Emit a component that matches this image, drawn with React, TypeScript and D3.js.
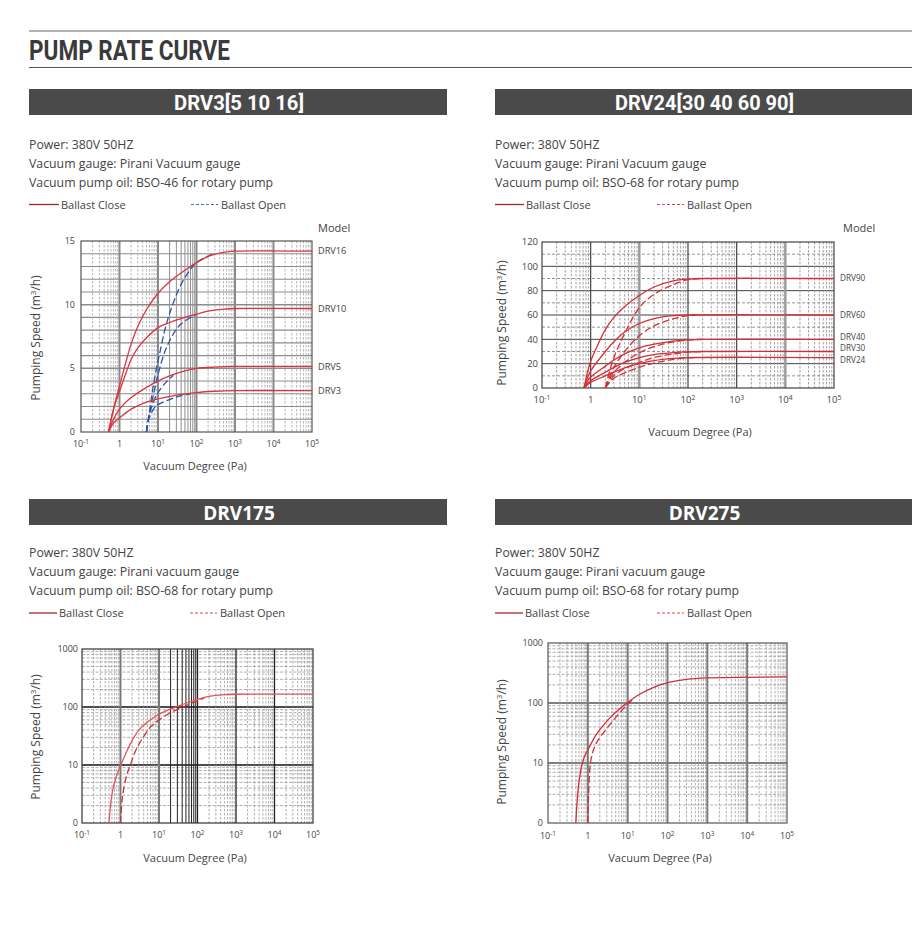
import React from "react";
import * as d3 from "d3";

type Pt = [number, number];

// ---------- text content ----------
const pageTitle = "PUMP RATE CURVE";
const panelTitles = ["DRV3[5 10 16]", "DRV24[30 40 60 90]", "DRV175", "DRV275"];
const infoDrv3 = ["Power: 380V 50HZ", "Vacuum gauge: Pirani Vacuum gauge", "Vacuum pump oil: BSO-46 for rotary pump"];
const infoDrv24 = ["Power: 380V 50HZ", "Vacuum gauge: Pirani Vacuum gauge", "Vacuum pump oil: BSO-68 for rotary pump"];
const infoDrv175 = ["Power: 380V 50HZ", "Vacuum gauge: Pirani vacuum gauge", "Vacuum pump oil: BSO-68 for rotary pump"];
const infoDrv275 = ["Power: 380V 50HZ", "Vacuum gauge: Pirani vacuum gauge", "Vacuum pump oil: BSO-68 for rotary pump"];
const legendLabels = ["Ballast Close", "Ballast Open"];
const xAxisTitle = "Vacuum Degree (Pa)";
const modelTitle = "Model";

// ---------- axes ----------
const xTickValues = [0.1, 1, 10, 100, 1000, 10000, 100000];
const xTickExps = ["-1", "", "1", "2", "3", "4", "5"];
const yTicksDrv3 = [0, 5, 10, 15];
const yTicksDrv24 = [0, 20, 40, 60, 80, 100, 120];
const yTicksLog = [1, 10, 100, 1000];
const yTickLabelsLog = ["0", "10", "100", "1000"];

// ---------- DRV3[5 10 16] ----------
const drv3Models = ["DRV16", "DRV10", "DRV5", "DRV3"];
const drv16Close: Pt[] = [[0.52, 0], [0.7, 1.8], [1, 3.6], [1.5, 5.6], [2, 6.9], [3, 8.3], [5, 9.6], [10, 10.9], [20, 11.8], [50, 12.7], [100, 13.3], [200, 13.8], [500, 14.1], [1000, 14.2], [100000, 14.2]];
const drv16Open: Pt[] = [[5, 0], [6, 1.6], [7, 3.0], [9, 4.9], [11.3, 6.3], [15, 8.0], [20.5, 9.4], [37, 11.4], [60, 12.5], [100, 13.3], [250, 13.95]];
const drv10Close: Pt[] = [[0.52, 0], [0.7, 1.8], [1, 3.2], [1.5, 4.7], [2, 5.7], [3, 6.6], [5, 7.4], [10, 8.2], [20, 8.6], [50, 9.0], [100, 9.25], [200, 9.5], [500, 9.65], [1000, 9.7], [100000, 9.7]];
const drv10Open: Pt[] = [[5, 0], [6, 1.4], [8, 3.2], [10, 4.5], [17, 6.7], [37, 8.4], [100, 9.25]];
const drv5Close: Pt[] = [[0.52, 0], [0.7, 1.0], [1, 1.8], [2, 2.7], [5, 3.5], [10, 4.0], [20, 4.4], [50, 4.8], [100, 5.0], [300, 5.1], [1000, 5.15], [100000, 5.15]];
const drv5Open: Pt[] = [[5, 0], [6, 1.4], [8, 2.5], [10, 3.1], [15, 3.8], [25, 4.45]];
const drv3Close: Pt[] = [[0.52, 0], [0.7, 0.7], [1, 1.1], [2, 1.8], [5, 2.35], [10, 2.6], [30, 2.9], [100, 3.1], [300, 3.2], [1000, 3.25], [100000, 3.25]];
const drv3Open: Pt[] = [[5, 0], [5.5, 0.8], [6.5, 1.4], [8, 1.9], [10, 2.15], [20, 2.55], [40, 2.85], [70, 3.0]];

// ---------- DRV24[30 40 60 90] ----------
const drv24Models = ["DRV90", "DRV60", "DRV40", "DRV30", "DRV24"];
const drv90Close: Pt[] = [[0.73, 0], [0.85, 12], [1, 22], [1.5, 38], [2, 48], [3, 58], [5, 67], [10, 76], [20, 83], [50, 88], [100, 89.5], [200, 90], [100000, 90]];
const drv90Open: Pt[] = [[2, 0], [2.5, 15], [3, 25], [5, 45], [10, 66], [20, 77], [50, 85], [100, 89], [200, 90]];
const drv60Close: Pt[] = [[0.73, 0], [0.85, 8], [1, 14], [2, 30], [3, 38], [5, 46], [10, 53], [20, 57], [50, 59.5], [100, 60], [100000, 60]];
const drv60Open: Pt[] = [[2, 0], [2.5, 10], [3, 17], [5, 30], [10, 43], [20, 51], [50, 57], [100, 59.5], [150, 60]];
const drv40Close: Pt[] = [[0.73, 0], [0.85, 5], [1, 9], [2, 18], [3, 23], [5, 28], [10, 33], [20, 36], [50, 38.5], [100, 39.5], [200, 40], [100000, 40]];
const drv40Open: Pt[] = [[2, 0], [2.5, 8], [3, 13], [5, 21], [10, 29], [20, 34], [50, 38], [100, 39.5], [200, 40]];
const drv30Close: Pt[] = [[0.73, 0], [1, 6], [2, 13], [3, 17], [5, 21], [10, 25], [20, 27.5], [50, 29], [100, 29.7], [200, 30], [100000, 30]];
const drv30Open: Pt[] = [[2, 0], [2.5, 6], [3, 10], [5, 16], [10, 21], [20, 25], [50, 28], [100, 29.5], [200, 30]];
const drv24Close: Pt[] = [[0.73, 0], [1, 4.5], [2, 10], [3, 13], [5, 16.5], [10, 20], [20, 22.5], [50, 24.3], [100, 25], [100000, 25]];
const drv24Open: Pt[] = [[2, 0], [2.5, 5], [3, 8], [5, 12.5], [10, 17], [20, 20.5], [50, 23.5], [100, 24.7], [150, 25]];

// ---------- DRV175 ----------
const drv175Close: Pt[] = [[0.5, 1], [0.55, 2], [0.62, 3.5], [0.7, 5], [0.85, 7.5], [1.05, 10.5], [1.5, 18], [2.1, 28], [3, 40], [5, 55], [10, 75], [20, 92], [30, 102], [50, 116], [100, 135], [200, 152], [500, 163], [1000, 166], [100000, 167]];
const drv175Open: Pt[] = [[1.0, 1], [1.1, 2.5], [1.3, 5], [1.5, 7.2], [1.8, 10], [2.5, 18], [4, 31], [6, 45], [10, 60], [20, 80], [45, 102], [70, 116], [100, 127], [150, 144]];

// ---------- DRV275 ----------
const drv275Close: Pt[] = [[0.5, 1], [0.53, 2], [0.58, 4], [0.65, 7], [0.73, 10], [0.85, 13.5], [1, 16.5], [1.64, 30], [3, 50], [5, 70], [9.6, 100], [20, 140], [50, 188], [100, 218], [300, 248], [1000, 262], [100000, 272]];
const drv275Open: Pt[] = [[1.0, 1], [1.02, 1.7], [1.05, 3.2], [1.09, 6], [1.15, 9.5], [1.25, 13], [1.45, 18], [1.8, 24], [2.65, 34], [4, 48], [6, 66], [8, 82], [10.7, 100], [14, 118]];

// ---------- styling ----------
const FONT = "'Open Sans', 'Noto Sans', 'DejaVu Sans', sans-serif";
const COND = "Roboto, 'Open Sans', sans-serif";
const TEXT = "#444";

interface LineStyle { stroke: string; w: number; dash?: string }
interface GLine extends LineStyle { v: number }

function logLines(eFrom: number, eTo: number, major: (e: number) => LineStyle | null, minor: (e: number) => LineStyle): GLine[] {
  const out: GLine[] = [];
  for (let e = eFrom; e < eTo; e++) {
    for (let k = 2; k <= 9; k++) out.push({ v: k * Math.pow(10, e), ...minor(e) });
  }
  for (let e = eFrom + 1; e < eTo; e++) {
    const m = major(e);
    if (m) out.push({ v: Math.pow(10, e), ...m });
  }
  return out;
}

interface Series { close: Pt[]; open: Pt[] }

interface ChartProps {
  id: string;
  l: number; r: number; t: number; b: number;
  yLog: boolean;
  yDomain: [number, number];
  yTicks: number[];
  yTickLabels: string[];
  vLines: GLine[];
  hLines: GLine[];
  series: Series[];
  closeColor: string;
  openColor: string;
  border: string;
  models?: string[];
  modelNudge?: number[];
  modelX?: number;
  modelTitleX?: number;
  modelFs?: number;
  tickFs: number;
  yLabelRight: number;
  xLabelY: number;
  xTitleX: number;
  xTitleY: number;
  yTitleX: number;
  yTitleY: number;
}

function Chart(p: ChartProps) {
  const xs = d3.scaleLog().domain([0.1, 100000]).range([p.l, p.r]);
  const ys = p.yLog
    ? d3.scaleLog().domain(p.yDomain).range([p.b, p.t])
    : d3.scaleLinear().domain(p.yDomain).range([p.b, p.t]);
  const line = d3.line<Pt>().x((d) => xs(d[0])).y((d) => ys(d[1])).curve(d3.curveCatmullRom.alpha(0.5));
  const clip = `clip-${p.id}`;
  return (
    <g>
      <defs>
        <clipPath id={clip}>
          <rect x={p.l} y={p.t - 2} width={p.r - p.l} height={p.b - p.t + 2} />
        </clipPath>
      </defs>
      <rect x={p.l} y={p.t} width={p.r - p.l} height={p.b - p.t} fill="#fff" />
      {p.hLines.map((g, i) => (
        <line key={"h" + i} x1={p.l} x2={p.r} y1={ys(g.v)} y2={ys(g.v)} stroke={g.stroke} strokeWidth={g.w} strokeDasharray={g.dash} />
      ))}
      {p.vLines.map((g, i) => (
        <line key={"v" + i} x1={xs(g.v)} x2={xs(g.v)} y1={p.t} y2={p.b} stroke={g.stroke} strokeWidth={g.w} strokeDasharray={g.dash} />
      ))}
      <rect x={p.l} y={p.t} width={p.r - p.l} height={p.b - p.t} fill="none" stroke={p.border} strokeWidth={1.2} />
      <g clipPath={`url(#${clip})`}>
        {p.series.map((s, i) => (
          <g key={"s" + i}>
            <path d={line(s.open) || ""} fill="none" stroke={p.openColor} strokeWidth={1.3} strokeDasharray="7,3" />
            <path d={line(s.close) || ""} fill="none" stroke={p.closeColor} strokeWidth={1.3} />
          </g>
        ))}
      </g>
      {p.yTicks.map((v, i) => (
        <text key={"yt" + i} x={p.yLabelRight} y={ys(v) + p.tickFs * 0.35} textAnchor="end" fontSize={p.tickFs} fill={TEXT} fontFamily={FONT}>
          {p.yTickLabels[i]}
        </text>
      ))}
      {xTickValues.map((v, i) => (
        <text key={"xt" + i} x={xs(v)} y={p.xLabelY + p.tickFs * 0.35} textAnchor="middle" fontSize={p.tickFs} fill={TEXT} fontFamily={FONT}>
          {xTickExps[i] === "" ? "1" : "10"}
          {xTickExps[i] !== "" && (
            <tspan dy={-p.tickFs * 0.4} fontSize={p.tickFs * 0.72}>{xTickExps[i]}</tspan>
          )}
        </text>
      ))}
      <text x={p.xTitleX} y={p.xTitleY + 4} textAnchor="middle" fontSize={11} fill={TEXT} fontFamily={FONT}>
        {xAxisTitle}
      </text>
      <text transform={`translate(${p.yTitleX},${p.yTitleY}) rotate(-90)`} textAnchor="middle" fontSize={12} fill={TEXT} fontFamily={FONT} dy={4}>
        Pumping Speed (m<tspan dy={-4.5} fontSize={8}>3</tspan><tspan dy={4.5}>/h)</tspan>
      </text>
      {p.models && (
        <text x={p.modelTitleX} y={232} fontSize={11} fill={TEXT} fontFamily={FONT}>{modelTitle}</text>
      )}
      {p.models &&
        p.models.map((m, i) => {
          const last = p.series[i].close[p.series[i].close.length - 1][1];
          const fs = p.modelFs || 9.2;
          return (
            <text key={"m" + i} x={p.modelX} y={ys(last) + fs * 0.36 + (p.modelNudge ? p.modelNudge[i] : 0)} fontSize={fs} fill={TEXT} fontFamily={FONT}>
              {m}
            </text>
          );
        })}
    </g>
  );
}

function Panel(props: {
  x: number; w: number; barY: number; title: string; titleFs: number; titleFont: string; titleLen?: number;
  info: string[]; infoY: number[]; legendY: number; openColor: string; lineEnd: number; dashX: number;
}) {
  const { x, w, barY } = props;
  return (
    <g>
      <rect x={x} y={barY} width={w} height={26} fill="#4a4a4a" />
      <text
        x={x + w / 2 + 1}
        y={barY + 20.5}
        textAnchor="middle"
        fontSize={props.titleFs}
        fontWeight={700}
        fill="#fff"
        fontFamily={props.titleFont}
        textLength={props.titleLen}
        lengthAdjust={props.titleLen ? "spacingAndGlyphs" : undefined}
      >
        {props.title}
      </text>
      {props.info.map((s, i) => (
        <text key={i} x={x} y={props.infoY[i]} fontSize={12.3} fill={TEXT} fontFamily={FONT}>
          {s}
        </text>
      ))}
      <line x1={x} x2={props.lineEnd} y1={props.legendY} y2={props.legendY} stroke="#a3272c" strokeWidth={1.3} />
      <text x={props.lineEnd + 2} y={props.legendY + 4} fontSize={11} fill={TEXT} fontFamily={FONT}>{legendLabels[0]}</text>
      <line x1={props.dashX} x2={props.dashX + 27} y1={props.legendY} y2={props.legendY} stroke={props.openColor} strokeWidth={1} strokeDasharray="3,2" />
      <text x={props.dashX + 30} y={props.legendY + 4} fontSize={11} fill={TEXT} fontFamily={FONT}>{legendLabels[1]}</text>
    </g>
  );
}

export default function App() {
  const dashed = (c: string): LineStyle => ({ stroke: c, w: 0.8, dash: "2.5,1.5" });

  const v1 = logLines(-1, 5, () => ({ stroke: "#8a8a8a", w: 2 }), (e) => (e === 1 ? { stroke: "#8f8f8f", w: 1 } : dashed("#a5a5a5")));
  const h1: GLine[] = d3.range(1, 15).map((v) => ({ v, stroke: "#8c8c8c", w: v % 5 === 0 ? 1.5 : 1.1 }));
  const v2 = logLines(-1, 5, (e) => (e === 1 || e === 4 ? { stroke: "#9a9a9a", w: 2.4 } : { stroke: "#444", w: 1.2 }), () => dashed("#8a8a8a"));
  const h2: GLine[] = d3.range(10, 120, 10).map((v) =>
    v % 20 === 0 ? { v, stroke: "#444", w: 1 } : { v, stroke: "#7a7a7a", w: 0.8, dash: "3,2" }
  );
  const v3 = logLines(-1, 5, (e) => (e <= 1 ? { stroke: "#7a7a7a", w: 2 } : { stroke: "#222", w: 1.3 }), (e) => (e === 1 ? { stroke: "#222", w: 1 } : dashed("#9a9a9a")));
  const h3 = logLines(0, 3, () => ({ stroke: "#111", w: 1.5 }), () => ({ stroke: "#9a9a9a", w: 0.8, dash: "3,1.5" }));
  const v4 = logLines(-1, 5, () => ({ stroke: "#7a7a7a", w: 2 }), () => dashed("#9a9a9a"));
  const h4 = logLines(0, 3, () => ({ stroke: "#555", w: 1.6 }), () => ({ stroke: "#9a9a9a", w: 0.8, dash: "3,1.5" }));

  return (
    <svg width={922} height={940} style={{ position: "absolute", left: 0, top: 0, background: "#fff" }}>
      <line x1={29} x2={912} y1={31} y2={31} stroke="#9a9a9a" strokeWidth={1.5} />
      <text x={29} y={59.5} fontFamily={COND} fontWeight={700} fontSize={27} fill="#3a3a3a" textLength={201} lengthAdjust="spacingAndGlyphs">
        {pageTitle}
      </text>
      <line x1={29} x2={912} y1={67.5} y2={67.5} stroke="#555" strokeWidth={1} />

      <Panel x={29} w={418} barY={89} title={panelTitles[0]} titleFs={21} titleFont={COND} titleLen={130}
        info={infoDrv3} infoY={[149, 168, 187]} legendY={204.5} openColor="#4a6cb0" lineEnd={59} dashX={191} />
      <Panel x={495} w={417} barY={89} title={panelTitles[1]} titleFs={21} titleFont={COND} titleLen={179}
        info={infoDrv24} infoY={[149, 168, 187]} legendY={204.5} openColor="#d4484d" lineEnd={524} dashX={657} />
      <Panel x={29} w={418} barY={499} title={panelTitles[2]} titleFs={19} titleFont={FONT}
        info={infoDrv175} infoY={[556.5, 576, 595]} legendY={613} openColor="#d4484d" lineEnd={57} dashX={190} />
      <Panel x={495} w={417} barY={499} title={panelTitles[3]} titleFs={19} titleFont={FONT}
        info={infoDrv275} infoY={[556.5, 576, 595]} legendY={613} openColor="#d4484d" lineEnd={523} dashX={657} />

      <Chart id="c1" l={81} r={312} t={241} b={432} yLog={false} yDomain={[0, 15]}
        yTicks={yTicksDrv3} yTickLabels={yTicksDrv3.map(String)} vLines={v1} hLines={h1}
        series={[{ close: drv16Close, open: drv16Open }, { close: drv10Close, open: drv10Open }, { close: drv5Close, open: drv5Open }, { close: drv3Close, open: drv3Open }]}
        closeColor="#d8363d" openColor="#2c54a3" border="#555"
        models={drv3Models} modelX={318} modelTitleX={318} tickFs={9} yLabelRight={75}
        xLabelY={444} xTitleX={195} xTitleY={466} yTitleX={36} yTitleY={338} />

      <Chart id="c2" l={542} r={834} t={242} b={388} yLog={false} yDomain={[0, 120]}
        yTicks={yTicksDrv24} yTickLabels={yTicksDrv24.map(String)} vLines={v2} hLines={h2}
        series={[{ close: drv90Close, open: drv90Open }, { close: drv60Close, open: drv60Open }, { close: drv40Close, open: drv40Open }, { close: drv30Close, open: drv30Open }, { close: drv24Close, open: drv24Open }]}
        closeColor="#d42f36" openColor="#d42f36" border="#444"
        models={drv24Models} modelNudge={[0, 0, -2.5, -3.5, 2]} modelFs={8.2} modelX={840} modelTitleX={843} tickFs={9.5} yLabelRight={538}
        xLabelY={400} xTitleX={700} xTitleY={432} yTitleX={502} yTitleY={323} />

      <Chart id="c3" l={82} r={313} t={649} b={823} yLog={true} yDomain={[1, 1000]}
        yTicks={yTicksLog} yTickLabels={yTickLabelsLog} vLines={v3} hLines={h3}
        series={[{ close: drv175Close, open: drv175Open }]}
        closeColor="#e2545a" openColor="#c8323a" border="#333"
        tickFs={9} yLabelRight={78}
        xLabelY={835} xTitleX={195} xTitleY={858} yTitleX={36} yTitleY={737} />

      <Chart id="c4" l={548} r={787} t={643} b={823} yLog={true} yDomain={[1, 1000]}
        yTicks={yTicksLog} yTickLabels={yTickLabelsLog} vLines={v4} hLines={h4}
        series={[{ close: drv275Close, open: drv275Open }]}
        closeColor="#cc3038" openColor="#cc3038" border="#555"
        tickFs={9} yLabelRight={543}
        xLabelY={836} xTitleX={660} xTitleY={858} yTitleX={502} yTitleY={742} />
    </svg>
  );
}
